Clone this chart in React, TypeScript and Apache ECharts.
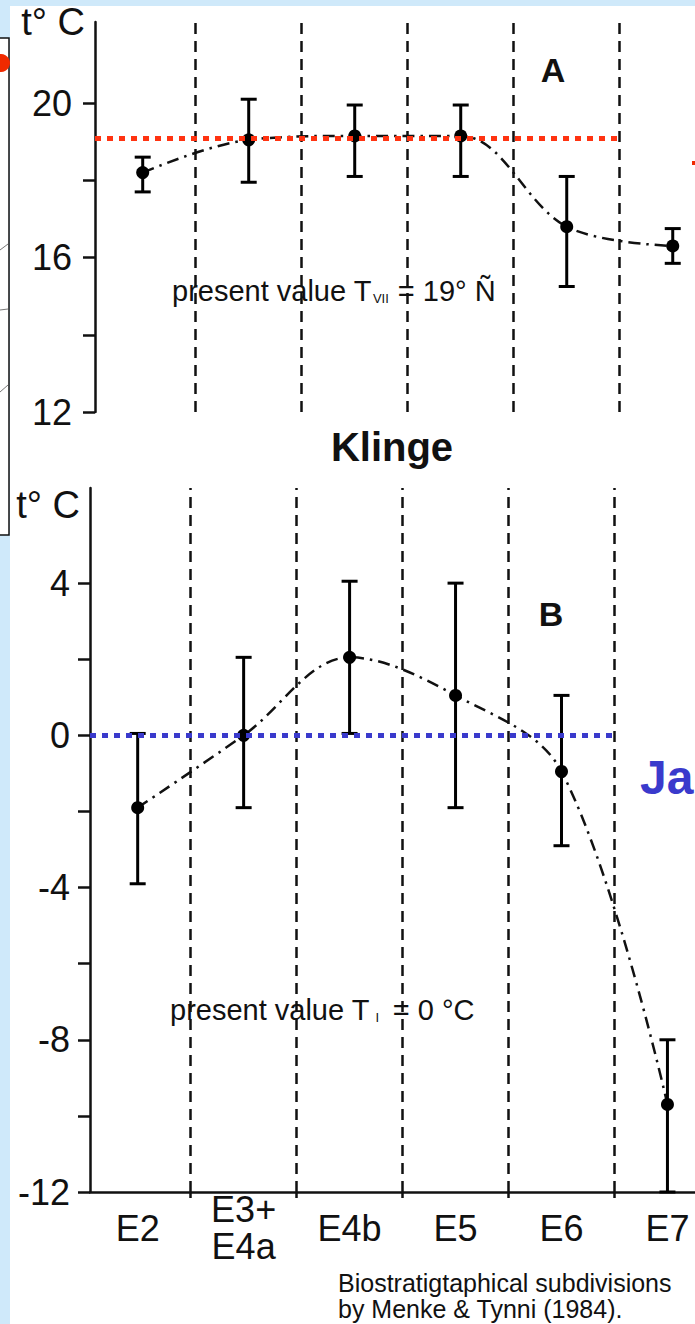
import React, { useEffect, useRef } from "react";
import * as echarts from "echarts";

// ---- data ----
const categories = ["E2", "E3+\nE4a", "E4b", "E5", "E6", "E7"];
const julyMean = [18.2, 19.05, 19.15, 19.15, 16.8, 16.3];
const julyLow = [17.7, 17.95, 18.1, 18.1, 15.25, 15.85];
const julyHigh = [18.6, 20.1, 19.95, 19.95, 18.1, 16.75];
const janMean = [-1.9, 0, 2.05, 1.05, -0.95, -9.7];
const janLow = [-3.9, -1.9, 0.05, -1.9, -2.9, -12];
const janHigh = [0.05, 2.05, 4.05, 4.0, 1.05, -8];
const dividers = [0.5, 1.5, 2.5, 3.5, 4.5];
const julyPresent = 19.1;
const janPresent = 0;
const julyTicks = [12, 14, 16, 18, 20];
const julyLabels = [12, 16, 20];
const janTicks = [-12, -10, -8, -6, -4, -2, 0, 2, 4];
const janLabels = [-12, -8, -4, 0, 4];

const FONT = "'Liberation Sans', Arial, sans-serif";
const X_MIN = -0.45;

function errorRender(params: any, api: any) {
  const x = api.value(0);
  const pLo = api.coord([x, api.value(1)]);
  const pHi = api.coord([x, api.value(2)]);
  const cap = 8;
  const st = { stroke: "#000", lineWidth: 3 };
  return {
    type: "group",
    children: [
      { type: "line", shape: { x1: pLo[0], y1: pLo[1], x2: pHi[0], y2: pHi[1] }, style: st },
      { type: "line", shape: { x1: pLo[0] - cap, y1: pLo[1], x2: pLo[0] + cap, y2: pLo[1] }, style: st },
      { type: "line", shape: { x1: pHi[0] - cap, y1: pHi[1], x2: pHi[0] + cap, y2: pHi[1] }, style: st },
    ],
  };
}

function panelSeries(idx: number, mean: number[], low: number[], high: number[], present: number, presentColor: string) {
  return [
    {
      type: "line",
      xAxisIndex: idx,
      yAxisIndex: idx,
      data: [],
      z: 1,
      silent: true,
      markLine: {
        silent: true,
        symbol: ["none", "none"],
        label: { show: false },
        lineStyle: { color: "#111", width: 2.5, type: [11, 7] },
        data: dividers.map((d) => ({ xAxis: d })),
      },
    },
    {
      type: "line",
      xAxisIndex: idx,
      yAxisIndex: idx,
      data: [],
      z: 2,
      silent: true,
      markLine: {
        silent: true,
        symbol: ["none", "none"],
        label: { show: false },
        lineStyle: { color: presentColor, width: 5, type: [6, 6] },
        data: [[{ coord: [X_MIN, present] }, { coord: [dividers[dividers.length - 1], present] }]],
      },
    },
    {
      type: "line",
      xAxisIndex: idx,
      yAxisIndex: idx,
      z: 3,
      smooth: 0.35,
      symbol: "circle",
      symbolSize: 13,
      itemStyle: { color: "#000" },
      lineStyle: { color: "#111", width: 2.5, type: [12, 6, 2.5, 6] },
      data: mean.map((v, i) => [i, v]),
    },
    {
      type: "custom",
      xAxisIndex: idx,
      yAxisIndex: idx,
      z: 4,
      renderItem: errorRender,
      encode: { x: 0, y: [1, 2] },
      data: mean.map((_, i) => [i, low[i], high[i]]),
    },
  ];
}

const yAxisBase = {
  type: "value",
  axisLine: { show: true, onZero: false, lineStyle: { color: "#111", width: 2.5 } },
  axisTick: { show: true, length: 12, lineStyle: { color: "#111", width: 2.5 } },
  splitLine: { show: false },
  nameLocation: "end",
  nameGap: 0,
  name: "t° C",
};

const nameStyle = { fontSize: 38, color: "#111", align: "right", verticalAlign: "middle", padding: [0, 10, 0, 0], fontFamily: FONT };

export default function App() {
  const ref = useRef<HTMLDivElement>(null);
  useEffect(() => {
    if (!ref.current) return;
    const chart = echarts.init(ref.current, undefined, { renderer: "svg" });
    chart.setOption({
      animation: false,
      backgroundColor: "transparent",
      textStyle: { fontFamily: FONT },
      grid: [
        { left: 95, top: 22, right: 0, height: 390, outerBoundsMode: "none" },
        { left: 90, top: 488, right: 0, height: 704, outerBoundsMode: "none" },
      ],
      xAxis: [
        { type: "value", gridIndex: 0, min: X_MIN, max: 5.21, show: false, splitLine: { show: false } },
        {
          type: "value",
          gridIndex: 1,
          min: X_MIN,
          max: 5.26,
          splitLine: { show: false },
          axisLine: { show: true, onZero: false, lineStyle: { color: "#111", width: 2.5 } },
          axisTick: { show: true, length: 6, customValues: dividers, lineStyle: { color: "#111", width: 2.5 } },
          axisLabel: {
            customValues: [0, 1, 2, 3, 4, 5],
            formatter: (v: number) => categories[Math.round(v)],
            fontSize: 36,
            color: "#111",
            margin: 36,
            verticalAlign: "middle",
            lineHeight: 37,
            fontFamily: FONT,
          },
        },
      ],
      yAxis: [
        {
          ...yAxisBase,
          gridIndex: 0,
          min: 12,
          max: 22.1,
          axisTick: { ...yAxisBase.axisTick, customValues: julyTicks },
          axisLabel: { customValues: julyLabels, fontSize: 36, color: "#111", margin: 23, fontFamily: FONT },
          nameTextStyle: nameStyle,
        },
        {
          ...yAxisBase,
          gridIndex: 1,
          min: -12,
          max: 6.5,
          nameGap: -17,
          axisTick: { ...yAxisBase.axisTick, customValues: janTicks },
          axisLabel: { customValues: janLabels, fontSize: 36, color: "#111", margin: 20, fontFamily: FONT },
          nameTextStyle: nameStyle,
        },
      ],
      graphic: [
        // left fragment box
        { type: "rect", shape: { x: -2, y: 38, width: 11, height: 497 }, style: { fill: "#fff", stroke: "#111", lineWidth: 1.5 } },
        { type: "circle", shape: { cx: 1, cy: 63, r: 9 }, style: { fill: "#f02a00" } },
        { type: "polyline", shape: { points: [[0, 250], [8, 244]] }, style: { stroke: "#777", lineWidth: 1 } },
        { type: "polyline", shape: { points: [[0, 310], [8, 309]] }, style: { stroke: "#777", lineWidth: 1 } },
        { type: "polyline", shape: { points: [[0, 392], [8, 385]] }, style: { stroke: "#777", lineWidth: 1 } },
        { type: "rect", shape: { x: 692, y: 161, width: 3, height: 4 }, style: { fill: "#f02a00" } },
        { type: "text", x: 553, y: 70, style: { text: "A", font: `bold 34px ${FONT}`, fill: "#111", align: "center", verticalAlign: "middle" } },
        { type: "text", x: 551, y: 614, style: { text: "B", font: `bold 34px ${FONT}`, fill: "#111", align: "center", verticalAlign: "middle" } },
        { type: "text", x: 392, y: 447, style: { text: "Klinge", font: `bold 40px ${FONT}`, fill: "#111", align: "center", verticalAlign: "middle" } },
        {
          type: "text",
          x: 172,
          y: 291,
          style: {
            text: "{a|present value T}{s|VII}{a| = 19° Ñ}",
            verticalAlign: "middle",
            rich: {
              a: { fontSize: 29, fontFamily: FONT, fill: "#111", color: "#111" },
              s: { fontSize: 13, fontFamily: FONT, fill: "#111", color: "#111", padding: [14, 1, 0, 1] },
            },
          },
        },
        {
          type: "text",
          x: 170,
          y: 1010,
          style: {
            text: "{a|present value T}{s| I }{a| = 0 °C}",
            verticalAlign: "middle",
            rich: {
              a: { fontSize: 29, fontFamily: FONT, fill: "#111", color: "#111" },
              s: { fontSize: 13, fontFamily: FONT, fill: "#111", color: "#111", padding: [14, 2, 0, 2] },
            },
          },
        },
        { type: "text", x: 338, y: 1283, style: { text: "Biostratigtaphical subdivisions", font: `25px ${FONT}`, fill: "#111", verticalAlign: "middle" } },
        { type: "text", x: 338, y: 1309, style: { text: "by Menke & Tynni (1984).", font: `25px ${FONT}`, fill: "#111", verticalAlign: "middle" } },
        { type: "text", x: 640, y: 777, style: { text: "Ja", font: `bold 48px ${FONT}`, fill: "#3a3acc", verticalAlign: "middle" } },
      ],
      series: [
        ...panelSeries(0, julyMean, julyLow, julyHigh, julyPresent, "#ff3311"),
        ...panelSeries(1, janMean, janLow, janHigh, janPresent, "#3a3acc"),
      ],
    });
    return () => chart.dispose();
  }, []);

  return (
    <div style={{ position: "absolute", left: 0, top: 0, width: 695, height: 1324, background: "#cfe9fa", overflow: "hidden" }}>
      <div style={{ position: "absolute", left: 10, top: 6, width: 685, height: 1318, background: "#fff" }} />
      <div ref={ref} style={{ position: "absolute", left: 0, top: 0, width: 695, height: 1324 }} />
    </div>
  );
}
